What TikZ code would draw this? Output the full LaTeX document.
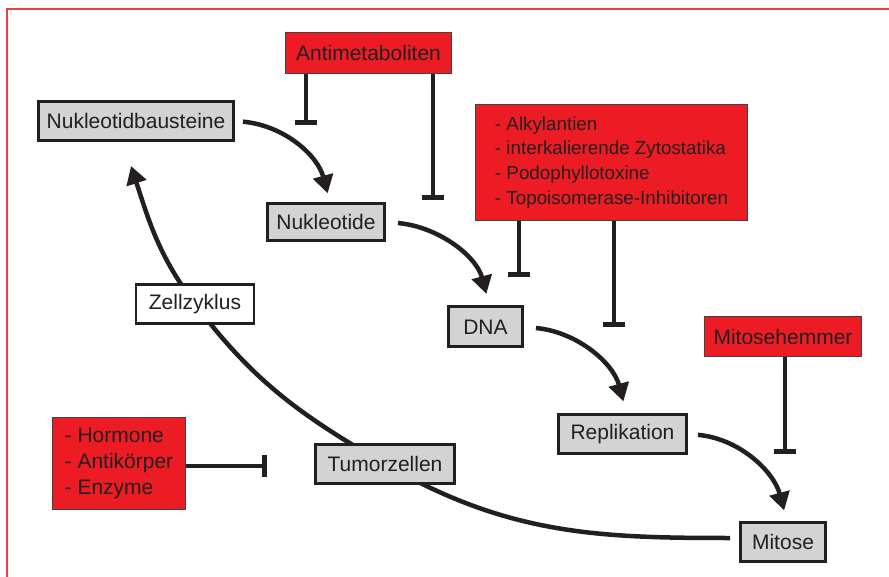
\documentclass[tikz,border=0pt]{standalone}
\usepackage{fontspec}
\setmainfont{Liberation Sans}
\usetikzlibrary{arrows.meta,backgrounds}

\definecolor{hemmrot}{HTML}{ED1C24}
\definecolor{zellgrau}{HTML}{D1D3D4}
\definecolor{schrift}{HTML}{231F20}

\tikzset{
  stoff/.style={draw=schrift, line width=3pt, fill=zellgrau, text=schrift,
    inner sep=0pt, minimum height=39pt, font=\fontsize{21}{26}\selectfont},
  zyklus/.style={stoff, fill=white, line width=2.5pt},
  hemmer/.style={draw=schrift!85, line width=1.2pt, fill=hemmrot, text=schrift,
    inner sep=0pt, align=left, font=\fontsize{21}{26}\selectfont},
  reaktion/.style={draw=schrift, line width=4.5pt, -{Triangle[length=18pt,width=20pt]}},
  hemmung/.style={draw=schrift, line width=4pt, -{Bar[width=22pt,line width=5pt]}},
  rahmen/.style={draw=hemmrot!85, line width=1.5pt}
}

\begin{document}
\begin{tikzpicture}[x=1pt,y=1pt]
\useasboundingbox (0,0) rectangle (889,-577);
\draw[rahmen] (7,-577) -- (7,-9) -- (889,-9);

\node[stoff, minimum width=195pt] (bausteine) at (136,-121) {Nukleotidbausteine};
\node[hemmer, minimum width=166pt, minimum height=41pt] (antimetab) at (368.5,-53) {Antimetaboliten};
\node[stoff, minimum width=117pt, minimum height=37pt] (nukleotide) at (326,-222) {Nukleotide};
\node[hemmer, minimum width=272pt, minimum height=116pt,
      font=\fontsize{18.8}{24.8}\selectfont] (zytostatika) at (611.5,-162.5)
      {- Alkylantien\\ - interkalierende Zytostatika\\ - Podophyllotoxine\\ - Topoisomerase-Inhibitoren};
\node[stoff, minimum width=74pt, minimum height=40pt] (dna) at (485.5,-327) {DNA};
\node[stoff, minimum width=128pt] (replikation) at (622.5,-434) {Replikation};
\node[hemmer, minimum width=157pt, minimum height=40pt] (mitosehemmer) at (783,-336.5) {Mitosehemmer};
\node[stoff, minimum width=85pt] (mitose) at (783,-542) {Mitose};
\node[stoff, minimum width=139pt] (tumorzellen) at (385,-464) {Tumorzellen};
\node[hemmer, minimum width=133pt, minimum height=92pt] (hormone) at (119,-463.5)
      {- Hormone\\ - Antikörper\\ - Enzyme};
\node[zyklus, minimum width=118pt] (zellzyklus) at (195,-304) {Zellzyklus};

\path (306,-125) coordinate (h1)
      (433,-200) coordinate (h2)
      (519,-277) coordinate (h3)
      (614,-327) coordinate (h4)
      (785,-454) coordinate (h5)
      (267,-466) coordinate (h6)
      (131,-166) coordinate (spitze);

\draw[reaktion, shorten <=8pt, shorten >=9pt] (bausteine.east) to[out=-5,in=105] ([xshift=4pt]nukleotide.north);
\draw[reaktion, shorten <=12pt, shorten >=12pt] (nukleotide.east) to[out=-5,in=105] ([xshift=4pt]dna.north);
\draw[reaktion, shorten <=12pt, shorten >=12pt] (dna.east) to[out=-5,in=105] ([xshift=4pt]replikation.north);
\draw[reaktion, shorten <=10pt, shorten >=11pt] (replikation.east) to[out=-5,in=105] ([xshift=4pt]mitose.north);

\begin{scope}[on background layer]
\draw[reaktion, shorten <=9pt] ([yshift=4pt]mitose.west) to[out=180,in=-30] (tumorzellen.center)
      to[out=150,in=-53] (zellzyklus.center) to[out=127,in=-72] (spitze);
\end{scope}

\draw[hemmung] (antimetab.south -| h1) -- (h1);
\draw[hemmung] (antimetab.south -| h2) -- (h2);
\draw[hemmung] (zytostatika.south -| h3) -- (h3);
\draw[hemmung] (zytostatika.south -| h4) -- (h4);
\draw[hemmung] (mitosehemmer.south -| h5) -- (h5);
\draw[hemmung] (hormone.east |- h6) -- (h6);
\end{tikzpicture}
\end{document}
